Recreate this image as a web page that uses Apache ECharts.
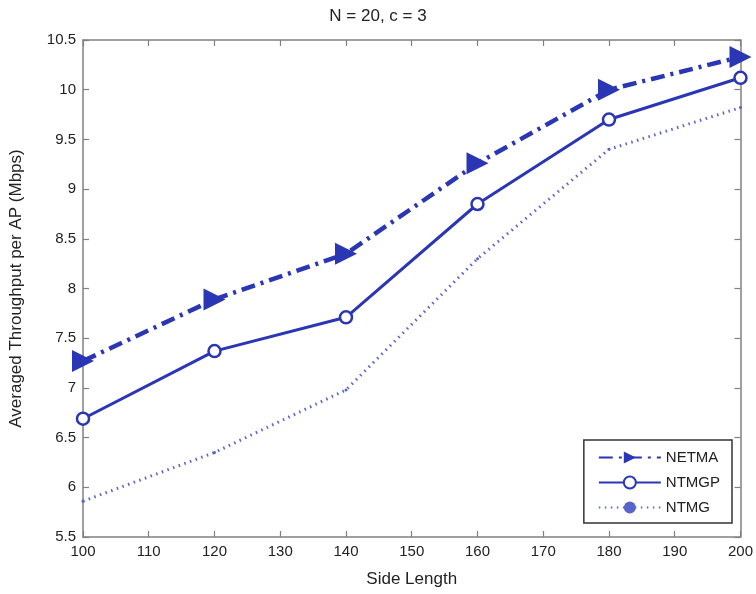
<!DOCTYPE html>
<html><head><meta charset="utf-8">
<script src="https://cdn.jsdelivr.net/npm/echarts@6/dist/echarts.min.js"></script>
<style>html,body{margin:0;padding:0;background:#fff}#c{width:756px;height:594px}</style>
</head><body><div id="c"></div>
<script>
const sideLength = [100, 120, 140, 160, 180, 200];
const netma = [7.27, 7.89, 8.35, 9.26, 10.0, 10.33];
const ntmgp = [6.69, 7.37, 7.71, 8.85, 9.70, 10.12];
const ntmg  = [5.86, 6.35, 6.98, 8.30, 9.40, 9.82];
const xTicks = [100,110,120,130,140,150,160,170,180,190,200];
const yTicks = [5.5,6,6.5,7,7.5,8,8.5,9,9.5,10,10.5];

const blue = '#2a36b4';
const lightBlue = '#5a63cc';
const font = 'Liberation Sans, Arial, sans-serif';
const pair = a => sideLength.map((x,i)=>[x,a[i]]);
const axisLine = {show:true, lineStyle:{color:'#808080', width:1.5}};
const tick = {show:true, inside:true, length:6, lineStyle:{color:'#808080', width:1.2}};

const chart = echarts.init(document.getElementById('c'));
chart.setOption({
  animation:false,
  title:{text:'N = 20, c = 3', left:'center', top:3, textStyle:{fontFamily:font, fontSize:17, fontWeight:'normal', color:'#222'}},
  grid:{left:82, right:14, top:40, bottom:57},
  xAxis:[{type:'value', min:100, max:200, interval:10, name:'Side Length', nameLocation:'middle', nameGap:34,
    nameTextStyle:{fontFamily:font, fontSize:17, color:'#222'},
    axisLine, axisTick:tick, splitLine:{show:false},
    axisLabel:{fontFamily:font, fontSize:15, color:'#222', margin:7}},
   {type:'value', position:'top', min:100, max:200, interval:10, axisLine, axisTick:tick, splitLine:{show:false}, axisLabel:{show:false}}],
  yAxis:[{type:'value', min:5.5, max:10.5, interval:0.5, name:'Averaged Throughput per AP (Mbps)', nameLocation:'middle', nameGap:58,
    nameTextStyle:{fontFamily:font, fontSize:17, color:'#222'},
    axisLine, axisTick:tick, splitLine:{show:false},
    axisLabel:{fontFamily:font, fontSize:15, color:'#222', margin:7, formatter:v=>String(v)}},
   {type:'value', position:'right', min:5.5, max:10.5, interval:0.5, axisLine, axisTick:tick, splitLine:{show:false}, axisLabel:{show:false}}],
  legend:{orient:'vertical', right:24, bottom:71, itemWidth:62, itemHeight:15, itemGap:10,
    backgroundColor:'#fff', borderColor:'#333', borderWidth:1.5, borderRadius:0, padding:[10,12,8,14],
    textStyle:{fontFamily:font, fontSize:15, color:'#222'},
    data:['NETMA','NTMGP','NTMG']},
  series:[
    {name:'NETMA', type:'line', data:pair(netma), clip:false, symbol:'triangle', symbolRotate:-90, symbolSize:22,
      lineStyle:{color:blue, width:4.5, type:[14,6,3,6]}, itemStyle:{color:blue}, z:3},
    {name:'NTMGP', type:'line', data:pair(ntmgp), clip:false, symbol:'circle', symbolSize:12,
      lineStyle:{color:blue, width:3, type:'solid'}, itemStyle:{color:'#fff', borderColor:blue, borderWidth:2.5}, z:2},
    {name:'NTMG', type:'line', data:pair(ntmg), clip:false, symbol:'circle', symbolSize:3,
      lineStyle:{color:lightBlue, width:3, type:[1.5,4.5]}, itemStyle:{color:lightBlue}, z:1}
  ]
});
</script></body></html>
